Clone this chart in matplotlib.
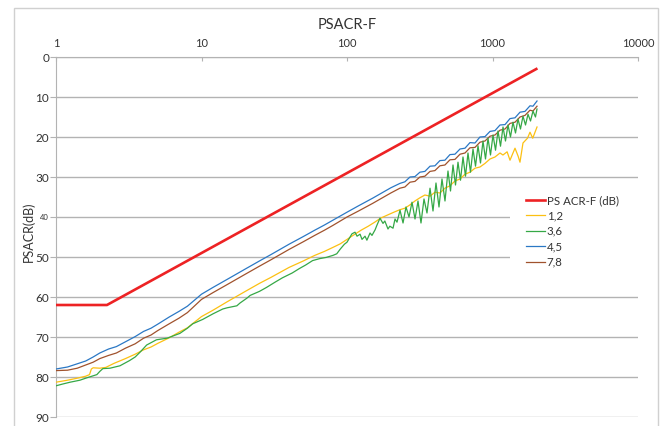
import matplotlib
matplotlib.use("Agg")
import matplotlib.pyplot as plt
from matplotlib.patches import Rectangle
from matplotlib.ticker import NullLocator

plt.rcParams['font.family'] = ['Lato', 'DejaVu Sans']

# limit line PS ACR-F (dB)
limit_f = [1, 2.24, 2000]
limit_db = [62, 62, 3]

# pair 1,2
f_12 = [1, 1.2, 1.4, 1.6, 1.7, 1.75, 1.8, 2.0, 2.2, 2.5, 3.0, 3.5, 4.0, 4.5, 5.0,
        6.0, 7.0, 8.0, 10, 12, 15, 20, 25, 30, 40, 50, 60, 70, 80, 90, 100, 110,
        125, 140, 155, 170, 190, 210, 230, 250, 270, 293, 317, 343, 372, 402, 435,
        471, 510, 552, 598, 647, 700, 758, 820, 888, 961, 1040, 1126, 1180, 1260,
        1319, 1383, 1428, 1500, 1545, 1620, 1740, 1810, 1890, 2023]
db_12 = [81.3, 80.8, 80.3, 79.8, 79.4, 78.0, 77.7, 77.8, 77.6, 76.6, 75.4, 74.3, 73.2,
         72.5, 71.6, 70.2, 68.8, 67.7, 64.9, 63.3, 61.2, 58.6, 56.6, 55.1, 52.6, 51.0,
         49.6, 48.6, 47.6, 46.7, 45.6, 44.6, 43.3, 42.3, 41.3, 40.3, 39.5, 38.8, 38.2,
         37.8, 37.0, 36.0, 35.2, 34.5, 34.8, 33.8, 34.0, 32.8, 32.2, 31.0, 30.5, 29.3,
         28.8, 27.8, 27.5, 26.6, 25.5, 25.0, 24.0, 24.5, 23.7, 25.8, 24.0, 22.8, 24.8,
         26.3, 21.5, 20.3, 18.8, 20.3, 17.5]

# pair 3,6
f_36 = [1, 1.1, 1.25, 1.46, 1.63, 1.8, 1.91, 2.0, 2.1, 2.35, 2.75, 3.2, 3.5, 3.78,
        4.2, 4.9, 5.8, 7.1, 8.0, 8.7, 10.2, 12, 14, 15, 17.5, 18.4, 20.5, 21.6, 25,
        28, 32, 36, 42, 47, 52, 58, 65, 72, 80, 85, 90, 96, 100,
        105, 108.2, 113.5, 117.2, 123, 126.8, 133, 137, 144, 148.5, 156, 160.8,
        168.5, 176.8, 182, 191.3, 197, 207.2, 213.8, 220.6,
        231.4, 242.7, 254.4, 266.8, 279.8, 293.4, 307.6, 322.5, 338.2, 354.6, 372.0,
        390.0, 408.9, 428.8, 449.6, 471.5, 494.4, 514.4, 535.2, 556.8, 579.2, 602.6,
        626.9, 652.2, 678.4, 705.8, 734.5, 764.2, 794.9, 826.9, 860.3, 895.1, 931.2,
        968.8, 1008, 1049, 1091, 1135, 1181, 1228, 1278, 1329, 1383, 1439, 1497,
        1557, 1620, 1686, 1754, 1825, 1898, 1974, 2022]
db_36 = [82.2, 81.8, 81.3, 80.8, 80.2, 79.7, 79.4, 78.6, 77.9, 77.8, 77.2, 75.9, 75.0,
         73.8, 72.0, 70.7, 70.3, 69.1, 67.8, 66.7, 65.6, 64.2, 63.0, 62.7, 62.2, 61.5,
         60.3, 59.6, 58.6, 57.6, 56.3, 55.2, 54.0, 52.9, 52.0, 50.9, 50.4, 50.1, 49.6,
         49.2, 48.0, 46.8, 46.3,
         45.0, 44.2, 43.8, 44.8, 44.3, 45.6, 44.8, 45.8, 44.0, 44.6, 43.2, 42.0,
         40.3, 41.6, 41.0, 43.0, 42.3, 42.8, 40.5, 41.3,
         38.3, 41.5, 37.5, 40.0, 36.3, 40.5, 36.0, 41.5, 35.5, 39.0, 32.8,
         38.5, 31.5, 37.5, 30.5, 36.0, 28.5, 33.5, 27.0, 32.0, 26.3, 30.8,
         25.0, 29.8, 24.0, 28.8, 23.0, 27.3, 22.2, 26.5, 21.0, 25.5, 20.3,
         24.5, 19.5, 23.3, 18.5, 22.3, 17.5, 21.0, 17.0, 20.0, 16.3, 19.0, 15.5,
         18.0, 14.8, 17.0, 14.3, 16.0, 13.5, 15.0, 13.0]

# pair 4,5
f_45 = [1, 1.2, 1.4, 1.6, 1.8, 2.0, 2.3, 2.6, 3.0, 3.5, 4.0, 4.5, 5.0, 6.0, 7.0, 8.0,
        10, 12, 15, 20, 25, 30, 40, 50, 60, 70, 80, 100, 120, 150, 200,
        231, 250, 271, 293, 317, 343, 372, 402, 435, 471, 510, 552, 598, 647, 700,
        758, 820, 888, 961, 1040, 1126, 1219, 1319, 1428, 1545, 1672, 1810, 1898, 2023]
db_45 = [78.0, 77.5, 76.7, 76.0, 75.0, 74.0, 73.0, 72.4, 71.2, 69.9, 68.6, 67.8, 66.8,
         65.0, 63.6, 62.3, 59.3, 57.6, 55.6, 53.0, 51.0, 49.4, 46.8, 44.9, 43.3, 42.0,
         40.8, 38.8, 37.2, 35.3, 32.7,
         31.6, 31.2, 30.0, 29.9, 28.8, 28.6, 27.3, 27.2, 25.9, 25.8, 24.4, 24.3, 23.0,
         22.8, 21.4, 21.5, 20.0, 19.9, 18.6, 18.4, 17.0, 16.9, 15.4, 15.2, 13.8, 13.6,
         12.2, 12.3, 11.0]

# pair 7,8
f_78 = f_45
db_78 = [78.4, 78.3, 77.8, 77.0, 76.3, 75.4, 74.6, 74.0, 72.8, 71.7, 70.3, 69.5, 68.4,
         66.7, 65.3, 63.9, 60.6, 58.9, 56.9, 54.3, 52.3, 50.7, 48.1, 46.2, 44.6, 43.3,
         42.1, 40.0, 38.5, 36.6, 34.0,
         32.8, 32.5, 31.3, 31.1, 30.0, 29.8, 28.6, 28.4, 27.2, 27.0, 25.7, 25.6, 24.3,
         24.0, 22.7, 22.6, 21.3, 21.0, 19.8, 19.5, 18.3, 18.0, 16.6, 16.3, 15.0, 14.6,
         13.3, 13.5, 12.3]

x_ticks = [1, 10, 100, 1000, 10000]
x_labels = ["1", "10", "100", "1000", "10000"]
y_ticks = [0, 10, 20, 30, 40, 50, 60, 70, 80, 90]

text_col = '#333333'
grid_col = '#b3b3b3'

fig = plt.figure(figsize=(6.72, 4.26), dpi=100)
ax = fig.add_axes([56 / 672, 1 - 417 / 426, 582 / 672, 360 / 426])

ax.plot(f_45, db_45, color='#2b78c5', lw=0.9, label='4,5', zorder=3)
ax.plot(f_78, db_78, color='#a0522d', lw=0.9, label='7,8', zorder=3)
ax.plot(f_12, db_12, color='#fcc012', lw=0.9, label='1,2', zorder=3)
ax.plot(f_36, db_36, color='#35a846', lw=0.9, label='3,6', zorder=3)
ax.plot(limit_f, limit_db, color='#ed2224', lw=1.9, label='PS ACR-F (dB)', zorder=4)

ax.set_xscale('log')
ax.set_xlim(1, 10000)
ax.set_ylim(90, 0)
ax.xaxis.tick_top()
ax.set_xticks(x_ticks)
ax.set_xticklabels(x_labels)
ax.xaxis.set_minor_locator(NullLocator())
ax.set_yticks(y_ticks)

ax.tick_params(axis='x', colors=grid_col, labelcolor=text_col, labelsize=8,
               direction='in', length=3, pad=6)
ax.tick_params(axis='y', colors=grid_col, labelcolor=text_col, labelsize=8.5,
               length=4, pad=1)
for lab in ax.get_yticklabels():
    if lab.get_text() == '40':
        lab.set_fontsize(5.5)

ax.grid(axis='y', color=grid_col, lw=1)
ax.set_axisbelow(True)
for side in ['right', 'bottom']:
    ax.spines[side].set_visible(False)
for side in ['top', 'left']:
    ax.spines[side].set_color(grid_col)

# white box behind legend hides the grid there
ax.add_patch(Rectangle((0.78, 0.41), 0.25, 0.22, transform=ax.transAxes,
                       facecolor='white', edgecolor='none', zorder=1.5,
                       clip_on=False))

handles, labels = ax.get_legend_handles_labels()
order = [4, 2, 3, 0, 1]
leg = ax.legend([handles[i] for i in order], [labels[i] for i in order],
                loc='upper left', bbox_to_anchor=(518 / 672, 1 - 187 / 426),
                bbox_transform=fig.transFigure, frameon=False, fontsize=8.3,
                handlelength=1.65, handletextpad=0.15, labelspacing=0.38,
                borderpad=0.2)
for t in leg.get_texts():
    t.set_color(text_col)

ax.set_title('PSACR-F', fontsize=10.5, color=text_col, pad=20)
fig.text(29 / 672, 1 - 232 / 426, 'PSACR(dB)', rotation=90, fontsize=9,
         color=text_col, ha='center', va='center')

fig.patches.append(Rectangle((14 / 672, -0.05), 644 / 672, 1.05 - 8 / 426,
                             transform=fig.transFigure, fill=False,
                             edgecolor='#d0d0d0', lw=1))

fig.savefig('out.png', dpi=100)
